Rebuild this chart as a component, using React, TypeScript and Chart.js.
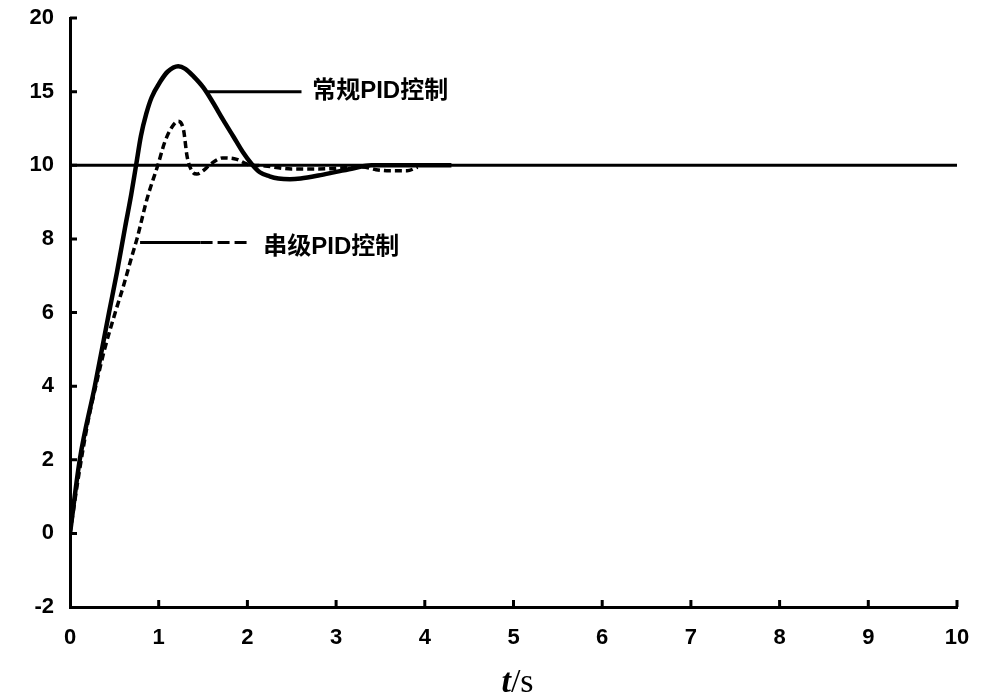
import React, { useEffect, useRef } from 'react';
import { Chart, registerables } from 'chart.js';

Chart.register(...registerables);

// ---- data ----
const xTickValues = [0, 1, 2, 3, 4, 5, 6, 7, 8, 9, 10];
const yTickValues = [-2, 0, 2, 4, 6, 8, 10, 15, 20];

const setpointT = [0, 10];
const setpointV = [10, 10];

// 常规PID控制 (solid)
const conventionalT = [0, 0.11, 0.28, 0.44, 0.53, 0.62, 0.69, 0.745, 0.8, 0.86, 0.92, 1.02, 1.1, 1.22, 1.3, 1.39, 1.5, 1.61, 1.725, 1.84, 1.95, 2.05, 2.14, 2.25, 2.35, 2.48, 2.6, 2.8, 3.0, 3.2, 3.4, 3.6, 4.3];
const conventionalV = [0, 2, 4, 6, 7.1, 8.3, 9.2, 10, 12.0, 13.5, 14.6, 15.7, 16.35, 16.73, 16.55, 16.05, 15.3, 14.28, 13.1, 11.97, 10.88, 10.07, 9.81, 9.7, 9.64, 9.62, 9.64, 9.72, 9.82, 9.92, 10.0, 10.0, 10.0];

// 串级PID控制 (dashed)
const cascadeT = [0, 0.1, 0.2, 0.3, 0.39, 0.51, 0.6, 0.7, 0.755, 0.87, 0.99, 1.07, 1.15, 1.22, 1.28, 1.32, 1.375, 1.43, 1.5, 1.58, 1.72, 1.88, 2.0, 2.2, 2.5, 2.8, 3.1, 3.3, 3.45, 3.6, 3.8, 3.92];
const cascadeV = [0, 1.6, 3.0, 4.1, 5.0, 6.0, 6.7, 7.55, 8.0, 9.1, 10.0, 11.6, 12.6, 12.99, 12.4, 10.6, 9.84, 9.76, 9.85, 10.05, 10.5, 10.4, 10.07, 9.98, 9.9, 9.9, 9.93, 9.95, 9.88, 9.85, 9.85, 9.95];

// annotations (data coordinates)
const labelTexts = ['常规PID控制', '串级PID控制'];
const leaderStartT = [1.55, 0.79];
const leaderEndT = [2.61, 2.03];
const leaderV = [15, 7.9];
const labelT = [2.73, 2.18];
const labelV = [15, 7.78];

// piecewise y axis: below 10 each tick is 2, above 10 each tick is 5
const toAxis = (v: number) => (v <= 10 ? v / 2 : 5 + (v - 10) / 5);
const fromAxis = (p: number) => (p <= 5 ? p * 2 : 10 + (p - 5) * 5);

const pts = (ts: number[], vs: number[]) => ts.map((t, i) => ({ x: t, y: toAxis(vs[i]) }));

const TICK_FONT = { family: '"Liberation Sans", Arial, sans-serif', size: 22, weight: 'bold' as const };

const inwardTicks = {
  id: 'inwardTicks',
  afterDraw(chart: any) {
    const { ctx, chartArea, scales } = chart;
    ctx.save();
    ctx.strokeStyle = '#000';
    ctx.lineWidth = 3;
    ctx.beginPath();
    scales.x.ticks.forEach((tk: any) => {
      const px = scales.x.getPixelForValue(tk.value);
      if (Math.abs(px - chartArea.left) < 1) return;
      ctx.moveTo(px, chartArea.bottom);
      ctx.lineTo(px, chartArea.bottom - 7);
    });
    scales.y.ticks.forEach((tk: any) => {
      const py = scales.y.getPixelForValue(tk.value);
      if (Math.abs(py - chartArea.bottom) < 1) return;
      ctx.moveTo(chartArea.left, py);
      ctx.lineTo(chartArea.left + 7, py);
    });
    ctx.stroke();
    ctx.restore();
  },
};

const annotations = {
  id: 'annotations',
  afterDatasetsDraw(chart: any) {
    const { ctx, scales } = chart;
    const xs = scales.x;
    const ys = scales.y;
    ctx.save();
    ctx.strokeStyle = '#000';
    ctx.fillStyle = '#000';
    ctx.lineWidth = 3;
    labelTexts.forEach((txt, i) => {
      const x0 = xs.getPixelForValue(leaderStartT[i]);
      const x1 = xs.getPixelForValue(leaderEndT[i]);
      const y = ys.getPixelForValue(toAxis(leaderV[i]));
      if (i === 0) {
        ctx.setLineDash([]);
        ctx.beginPath();
        ctx.moveTo(x0, y);
        ctx.lineTo(x1, y);
        ctx.stroke();
      } else {
        const xm = x0 + (x1 - x0) * 0.55;
        ctx.setLineDash([]);
        ctx.beginPath();
        ctx.moveTo(x0, y);
        ctx.lineTo(xm, y);
        ctx.stroke();
        ctx.setLineDash([12, 5]);
        ctx.beginPath();
        ctx.moveTo(xm, y);
        ctx.lineTo(x1, y);
        ctx.stroke();
        ctx.setLineDash([]);
      }
      ctx.font = 'bold 24px "Liberation Sans", "Noto Sans CJK SC", sans-serif';
      ctx.textBaseline = 'middle';
      ctx.textAlign = 'left';
      ctx.fillText(txt, xs.getPixelForValue(labelT[i]), ys.getPixelForValue(toAxis(labelV[i])));
    });
    ctx.restore();
  },
};

const axisTitle = {
  id: 'axisTitle',
  afterDraw(chart: any) {
    const { ctx, chartArea } = chart;
    ctx.save();
    ctx.fillStyle = '#000';
    ctx.textBaseline = 'alphabetic';
    ctx.textAlign = 'left';
    const f1 = 'italic bold 34px "Liberation Serif", "Times New Roman", serif';
    const f2 = '34px "Liberation Serif", "Times New Roman", serif';
    ctx.font = f1;
    const w1 = ctx.measureText('t').width;
    ctx.font = f2;
    const w2 = ctx.measureText('/s').width;
    const cx = (chartArea.left + chartArea.right) / 2 + 4;
    const x = cx - (w1 + w2) / 2;
    const y = 692;
    ctx.font = f1;
    ctx.fillText('t', x, y);
    ctx.font = f2;
    ctx.fillText('/s', x + w1, y);
    ctx.restore();
  },
};

export default function App() {
  const ref = useRef<HTMLCanvasElement>(null);
  useEffect(() => {
    document.body.style.margin = '0';
    const canvas = ref.current!;
    const chart = new Chart(canvas, {
      type: 'line',
      data: {
        datasets: [
          {
            label: 'setpoint',
            data: pts(setpointT, setpointV),
            borderColor: '#000',
            borderWidth: 3,
            pointRadius: 0,
            fill: false,
          },
          {
            label: '常规PID控制',
            data: pts(conventionalT, conventionalV),
            borderColor: '#000',
            borderWidth: 4.5,
            pointRadius: 0,
            cubicInterpolationMode: 'monotone',
            fill: false,
          },
          {
            label: '串级PID控制',
            data: pts(cascadeT, cascadeV),
            borderColor: '#000',
            borderWidth: 3.5,
            borderDash: [7, 4],
            pointRadius: 0,
            cubicInterpolationMode: 'monotone',
            fill: false,
          },
        ],
      },
      options: {
        responsive: false,
        animation: false,
        layout: { padding: { left: 0, top: 18, right: 32, bottom: 0 } },
        plugins: { legend: { display: false }, tooltip: { enabled: false }, title: { display: false } },
        scales: {
          x: {
            type: 'linear',
            min: 0,
            max: 10,
            afterBuildTicks: (scale: any) => {
              scale.ticks = xTickValues.map((v) => ({ value: v }));
            },
            afterFit: (scale: any) => {
              scale.height = 92;
              scale.paddingLeft = 0;
              scale.paddingRight = 0;
            },
            grid: { display: false, drawTicks: false },
            border: { display: true, color: '#000', width: 3 },
            ticks: {
              autoSkip: false,
              maxRotation: 0,
              padding: 18,
              color: '#000',
              font: TICK_FONT,
              callback: (v: any) => String(v),
            },
          },
          y: {
            type: 'linear',
            min: toAxis(yTickValues[0]),
            max: toAxis(yTickValues[yTickValues.length - 1]),
            afterBuildTicks: (scale: any) => {
              scale.ticks = yTickValues.map((v) => ({ value: toAxis(v) }));
            },
            afterFit: (scale: any) => {
              scale.width = 70;
              scale.paddingTop = 0;
              scale.paddingBottom = 0;
            },
            grid: { display: false, drawTicks: false },
            border: { display: true, color: '#000', width: 3 },
            ticks: {
              autoSkip: false,
              padding: 16,
              color: '#000',
              font: TICK_FONT,
              callback: (v: any) => String(fromAxis(Number(v))),
            },
          },
        },
      },
      plugins: [inwardTicks, annotations, axisTitle],
    } as any);
    return () => chart.destroy();
  }, []);
  return (
    <div style={{ width: 989, height: 699 }}>
      <canvas ref={ref} width={989} height={699} />
    </div>
  );
}
